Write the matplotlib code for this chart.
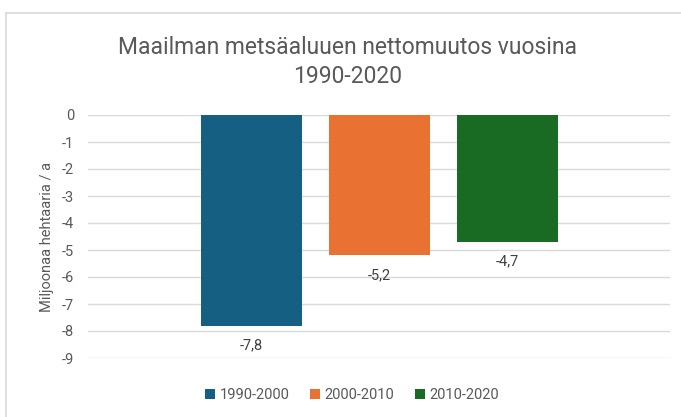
import matplotlib
matplotlib.use("Agg")
import matplotlib.pyplot as plt
from matplotlib.lines import Line2D
from matplotlib.patches import Patch

series = ["1990-2000", "2000-2010", "2010-2020"]
values = [-7.8, -5.2, -4.7]
colors = ["#156082", "#E97132", "#196B24"]
yticks = list(range(0, -10, -1))

plt.rcParams['font.family'] = ['Roboto', 'DejaVu Sans']
W, H = 681, 417
fig = plt.figure(figsize=(W/100, H/100), dpi=100)
fig.patch.set_facecolor("white")

# chart border
fig.add_artist(Line2D([6/W, 1], [1-13/H, 1-13/H], color="#d9d9d9", lw=1.2, transform=fig.transFigure))
fig.add_artist(Line2D([6/W, 6/W], [0, 1-13/H], color="#d9d9d9", lw=1.2, transform=fig.transFigure))

ax = fig.add_axes([88/W, 1-358/H, (670-88)/W, (358-115)/H])
pos = [-1, 0, 1]
bw = 101/128
for p, v, c, s in zip(pos, values, colors, series):
    ax.bar(p, v, width=bw, color=c, label=s, zorder=3)
    ax.text(p, v - 0.72, f"{v:.1f}".replace(".", ","), ha="center", va="center",
            fontsize=10.5, color="#404040")

half = 291/128
ax.set_xlim(-half, half)
ax.set_ylim(-9, 0)
ax.set_yticks(yticks)
ax.set_yticklabels([str(t) for t in yticks], fontsize=10.5, color="#595959")
ax.tick_params(axis="y", length=0, pad=10)
ax.set_xticks([])
for sp in ax.spines.values():
    sp.set_visible(False)
ax.grid(axis="y", color="#d9d9d9", lw=1, zorder=0)
ax.set_ylabel("Miljoonaa hehtaaria / a", fontsize=10.5, color="#595959", labelpad=6)

fig.text(348/W, 1-62/H, "Maailman metsäaluuen nettomuutos vuosina\n1990-2020",
         ha="center", va="center", fontsize=16.5, color="#595959", linespacing=1.35)

handles = [Patch(facecolor=c, label=s) for c, s in zip(colors, series)]
fig.legend(handles=handles, loc="center", bbox_to_anchor=(352/W, 1-395/H), ncol=3,
           frameon=False, fontsize=10.5, handlelength=0.7, handleheight=0.7,
           handletextpad=0.3, columnspacing=1.4, labelcolor="#595959")

fig.savefig("out.png", dpi=100)
